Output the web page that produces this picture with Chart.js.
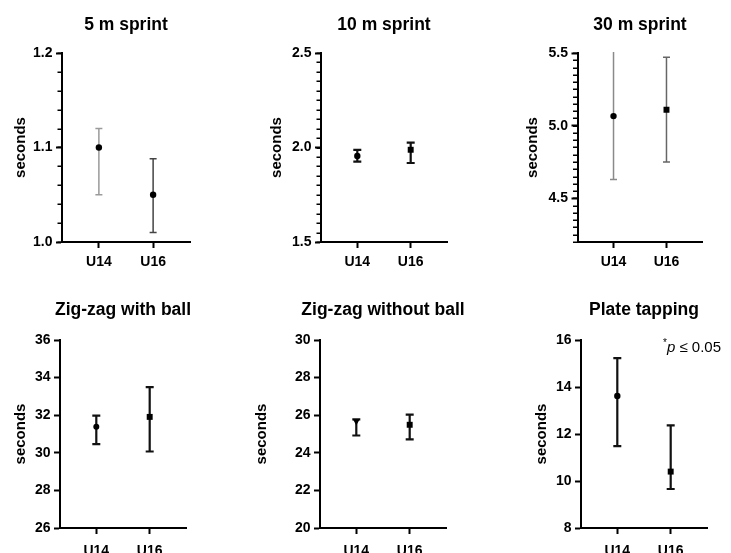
<!DOCTYPE html>
<html>
<head>
<meta charset="utf-8">
<script src="https://cdn.jsdelivr.net/npm/chart.js@4.4.0/dist/chart.umd.min.js"></script>
<style>
  body { margin: 0; background: #fff; width: 731px; height: 553px; overflow: hidden; position: relative; }
  canvas { position: absolute; }
  #note { position: absolute; left: 663px; top: 337px; font: 15px "Liberation Sans", Arial, sans-serif; color: #000; white-space: nowrap; }
  #note sup { font-size: 10px; }
</style>
</head>
<body>
<canvas id="c1" width="260" height="280"></canvas>
<canvas id="c2" width="260" height="280"></canvas>
<canvas id="c3" width="260" height="280"></canvas>
<canvas id="c4" width="260" height="273"></canvas>
<canvas id="c5" width="260" height="273"></canvas>
<canvas id="c6" width="260" height="273"></canvas>
<div id="note"><sup>*</sup><i>p</i> ≤ 0.05</div>
<script>
// groups on the x axis
const groups = ["U14", "U16"];

// 5 m sprint
const sprint5Mean = [1.10, 1.05];
const sprint5Low = [1.05, 1.01];
const sprint5High = [1.12, 1.088];
const sprint5Ticks = [1.0, 1.1, 1.2];

// 10 m sprint
const sprint10Mean = [1.955, 1.988];
const sprint10Low = [1.925, 1.918];
const sprint10High = [1.987, 2.026];
const sprint10Ticks = [1.5, 2.0, 2.5];

// 30 m sprint
const sprint30Mean = [5.066, 5.11];
const sprint30Low = [4.63, 4.75];
const sprint30High = [5.53, 5.47];
const sprint30Ticks = [4.5, 5.0, 5.5];

// zig-zag with ball
const zigBallMean = [31.38, 31.91];
const zigBallLow = [30.46, 30.07];
const zigBallHigh = [31.98, 33.49];
const zigBallTicks = [26, 28, 30, 32, 34, 36];

// zig-zag without ball
const zigNoBallMean = [25.68, 25.49];
const zigNoBallLow = [24.92, 24.71];
const zigNoBallHigh = [25.78, 26.03];
const zigNoBallTicks = [20, 22, 24, 26, 28, 30];

// plate tapping
const plateMean = [13.62, 10.40];
const plateLow = [11.48, 9.66];
const plateHigh = [15.23, 12.37];
const plateTicks = [8, 10, 12, 14, 16];

Chart.defaults.font.family = "'Liberation Sans', Arial, sans-serif";
Chart.defaults.color = "#000";

const canvasW = 260;

// title centred over the plot area (the built-in one centres on the whole canvas)
const panelTitle = {
  id: "panelTitle",
  afterDraw(chart, args, opts) {
    const { ctx, chartArea } = chart;
    ctx.save();
    ctx.font = "bold 17.5px 'Liberation Sans', Arial, sans-serif";
    ctx.fillStyle = "#000";
    ctx.textAlign = "center";
    ctx.textBaseline = "middle";
    ctx.fillText(opts.text, (chartArea.left + chartArea.right) / 2, opts.y);
    ctx.restore();
  }
};

// error bars + minor ticks on the y axis
const errorBars = {
  id: "errorBars",
  beforeDatasetsDraw(chart, args, opts) {
    const { ctx, chartArea, scales: { x, y } } = chart;

    if (opts.minor) {
      ctx.save();
      ctx.strokeStyle = "#000";
      ctx.lineWidth = 1.5;
      const first = Math.ceil(y.min / opts.minor - 1e-6);
      const last = Math.floor(y.max / opts.minor + 1e-6);
      for (let k = first; k <= last; k++) {
        const py = Math.round(y.getPixelForValue(k * opts.minor)) + 0.25;
        ctx.beginPath();
        ctx.moveTo(chartArea.left - 4.5, py);
        ctx.lineTo(chartArea.left, py);
        ctx.stroke();
      }
      ctx.restore();
    }

    ctx.save();
    ctx.beginPath();
    ctx.rect(chartArea.left, chartArea.top - 1, chartArea.width, chartArea.height + 1);
    ctx.clip();
    opts.low.forEach((lo, i) => {
      const px = x.getPixelForValue(i);
      const yl = y.getPixelForValue(lo);
      const yh = y.getPixelForValue(opts.high[i]);
      ctx.strokeStyle = opts.colors[i];
      ctx.lineWidth = opts.width;
      ctx.beginPath();
      ctx.moveTo(px, yl);
      ctx.lineTo(px, yh);
      ctx.moveTo(px - opts.cap, yl);
      ctx.lineTo(px + opts.cap, yl);
      ctx.moveTo(px - opts.cap, yh);
      ctx.lineTo(px + opts.cap, yh);
      ctx.stroke();
    });
    ctx.restore();
  }
};

// p.axisX / p.plotRight / p.yTitle are page x positions
function makePanel(id, p) {
  const canvas = document.getElementById(id);
  const left = (p.axisX + p.plotRight) / 2 - canvasW / 2;
  canvas.style.left = left + "px";
  canvas.style.top = p.top + "px";
  const plotLeft = p.axisX - left;
  const padRight = canvasW - (p.plotRight - left);

  new Chart(canvas, {
    type: "scatter",
    data: {
      datasets: [{
        data: p.mean.map((v, i) => ({ x: i, y: v })),
        pointStyle: p.styles,
        rotation: p.rotation || 0,
        pointRadius: p.radius,
        pointBackgroundColor: "#000",
        pointBorderColor: "#000",
        pointBorderWidth: 0
      }]
    },
    plugins: [errorBars, panelTitle],
    options: {
      responsive: false,
      animation: false,
      events: [],
      layout: { padding: { left: 0, top: p.plotTop, bottom: 0, right: padRight } },
      plugins: {
        legend: { display: false },
        tooltip: { enabled: false },
        title: { display: false },
        panelTitle: { text: p.title, y: p.titleY },
        errorBars: {
          low: p.low,
          high: p.high,
          colors: p.barColors,
          width: p.barWidth,
          cap: p.cap,
          minor: p.minor
        }
      },
      scales: {
        x: {
          type: "linear",
          min: -0.68,
          max: 1.68,
          afterBuildTicks: (s) => { s.ticks = groups.map((g, i) => ({ value: i })); },
          afterFit: (s) => { s.height = p.xHeight; },
          ticks: {
            callback: (v) => groups[v],
            font: { size: 14, weight: "bold" },
            padding: p.xPad,
            maxRotation: 0
          },
          grid: { drawOnChartArea: false, tickLength: 6, tickColor: "#000", tickWidth: 2 },
          border: { color: "#000", width: 2 }
        },
        y: {
          type: "linear",
          min: p.yMin,
          max: p.yMax,
          afterBuildTicks: (s) => { s.ticks = p.ticks.map((v) => ({ value: v })); },
          afterFit: (s) => { s.width = plotLeft; },
          ticks: {
            callback: (v) => v.toFixed(p.decimals),
            font: { size: 14, weight: "bold" },
            padding: 3.5
          },
          title: {
            display: true,
            text: "seconds",
            font: { size: 15, weight: "bold" },
            padding: { top: Math.max(p.yTitle - left - 9, 0), bottom: 0 }
          },
          grid: { drawOnChartArea: false, tickLength: 6, tickColor: "#000", tickWidth: 2 },
          border: { color: "#000", width: 2 }
        }
      }
    }
  });
}

const topRow = { top: 0, plotTop: 53, titleY: 25, xHeight: 38, xPad: 6, decimals: 1 };
const bottomRow = { top: 280, plotTop: 60, titleY: 30, xHeight: 25, xPad: 9, decimals: 0 };

makePanel("c1", Object.assign({}, topRow, {
  title: "5 m sprint", mean: sprint5Mean, low: sprint5Low, high: sprint5High, ticks: sprint5Ticks,
  yMin: 1.0, yMax: 1.2, minor: 0.02, axisX: 62, plotRight: 190, yTitle: 20.5,
  styles: ["circle", "circle"], radius: 3.2, barColors: ["#9a9a9a", "#444"], barWidth: 1.5, cap: 3.5
}));

makePanel("c2", Object.assign({}, topRow, {
  title: "10 m sprint", mean: sprint10Mean, low: sprint10Low, high: sprint10High, ticks: sprint10Ticks,
  yMin: 1.5, yMax: 2.5, minor: 0.05, axisX: 321, plotRight: 447, yTitle: 277,
  styles: ["circle", "rect"], radius: [3.2, 4.2], barColors: ["#111", "#111"], barWidth: 2.2, cap: 4
}));

makePanel("c3", Object.assign({}, topRow, {
  title: "30 m sprint", mean: sprint30Mean, low: sprint30Low, high: sprint30High, ticks: sprint30Ticks,
  yMin: 4.2, yMax: 5.5, minor: 0.05, axisX: 577, plotRight: 702, yTitle: 532,
  styles: ["circle", "rect"], radius: [3.2, 4.2], barColors: ["#8a8a8a", "#666"], barWidth: 1.5, cap: 3.5
}));

makePanel("c4", Object.assign({}, bottomRow, {
  title: "Zig-zag with ball", mean: zigBallMean, low: zigBallLow, high: zigBallHigh, ticks: zigBallTicks,
  yMin: 26, yMax: 36, minor: 0, axisX: 60, plotRight: 186, yTitle: 20.5,
  styles: ["circle", "rect"], radius: [3, 4.2], barColors: ["#111", "#111"], barWidth: 2.2, cap: 4
}));

makePanel("c5", Object.assign({}, bottomRow, {
  title: "Zig-zag without ball", mean: zigNoBallMean, low: zigNoBallLow, high: zigNoBallHigh, ticks: zigNoBallTicks,
  yMin: 20, yMax: 30, minor: 0, axisX: 320, plotRight: 446, yTitle: 262,
  styles: ["triangle", "rect"], rotation: [180, 0], radius: [4, 4.2], barColors: ["#111", "#111"], barWidth: 2.2, cap: 4
}));

makePanel("c6", Object.assign({}, bottomRow, {
  title: "Plate tapping", mean: plateMean, low: plateLow, high: plateHigh, ticks: plateTicks,
  yMin: 8, yMax: 16, minor: 0, axisX: 581, plotRight: 707, yTitle: 541.5,
  styles: ["circle", "rect"], radius: [3.2, 4.2], barColors: ["#111", "#111"], barWidth: 2.2, cap: 4
}));
</script>
</body>
</html>
